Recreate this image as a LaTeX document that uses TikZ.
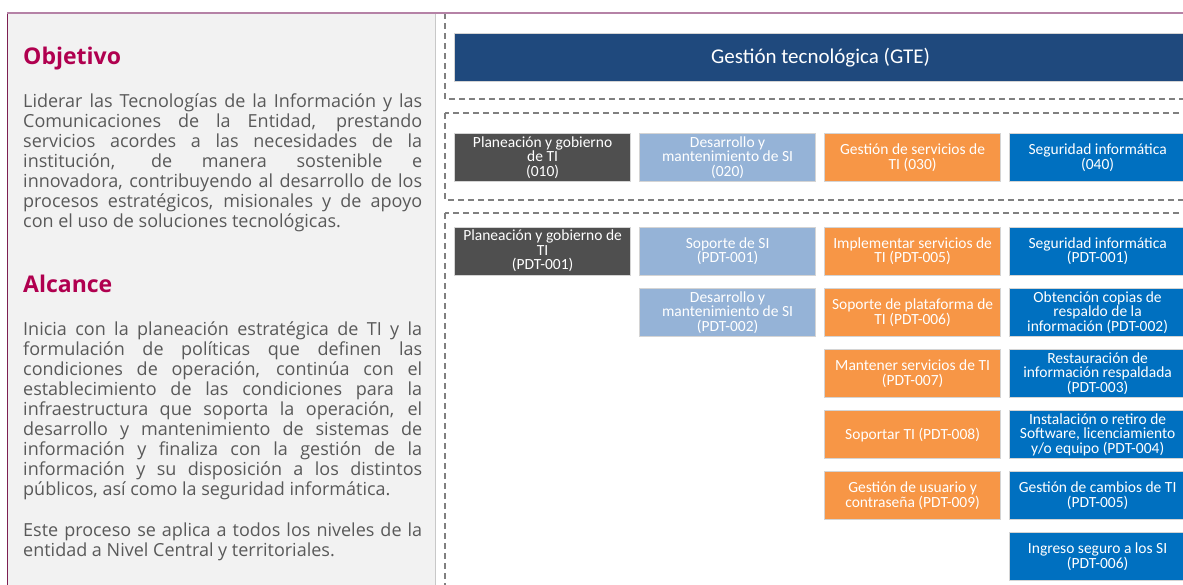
\documentclass[tikz,border=0pt]{standalone}
\usepackage{fontspec}
\setmainfont{Open Sans}
\newfontfamily\boxfont{Carlito}
\definecolor{panelbg}{HTML}{F2F2F2}
\definecolor{panelline}{HTML}{C8C8C8}
\definecolor{magdark}{HTML}{7D1F52}
\definecolor{magtop}{HTML}{B582A6}
\definecolor{headcol}{HTML}{B0004F}
\definecolor{bodygray}{HTML}{595959}
\definecolor{dashgray}{HTML}{808080}
\definecolor{gtecol}{HTML}{1F497D}
\definecolor{darkbox}{HTML}{4F4F4F}
\definecolor{lightblue}{HTML}{95B3D7}
\definecolor{orangebox}{HTML}{F79646}
\definecolor{bluebox}{HTML}{0070C0}
\definecolor{boxedge}{HTML}{D4D4D4}
\begin{document}
\begin{tikzpicture}[x=1pt,y=-1pt,
  pbox/.style={anchor=north west, minimum width=176pt, minimum height=48pt,
    inner sep=1pt, align=center, text=white, draw=boxedge, line width=1.2pt,
    font=\boxfont\fontsize{15.5}{14.5}\selectfont},
  graybox/.style={pbox, fill=darkbox},
  lbbox/.style={pbox, fill=lightblue},
  orbox/.style={pbox, fill=orangebox},
  blbox/.style={pbox, fill=bluebox},
  dashbox/.style={draw=dashgray, line width=1.5pt, dash pattern=on 6pt off 4pt},
  headtxt/.style={anchor=base west, inner sep=0pt, text=headcol,
    font=\bfseries\fontsize{23}{26}\selectfont},
  bodytxt/.style={anchor=base west, inner sep=0pt, align=left, text=bodygray,
    font=\fontsize{18}{20}\selectfont}
]
\useasboundingbox (0,0) rectangle (1183,584);
\clip (0,0) rectangle (1183,584);

% left panel
\fill[panelbg] (8,13) rectangle (435,600);
\draw[panelline, line width=1pt] (435,13) -- (435,600);
\draw[magdark, line width=1.6pt] (7.5,13) -- (7.5,600);

% dashed groups
\draw[dashbox] (445,13) rectangle (1200,99);
\draw[dashbox] (445,113) rectangle (1200,200);
\draw[dashbox] (445,213) rectangle (1200,700);
\draw[magtop, line width=1.2pt] (7,13) -- (1190,13);

% texts (base anchor = baseline of the last line)
\node[headtxt] (objh) at (23,64) {Objetivo};
\node[bodytxt] (objt) at (23,227) {%
\makebox[399pt][s]{Liderar las Tecnologías de la Información y las}\\
\makebox[399pt][s]{Comunicaciones de la Entidad, prestando}\\
\makebox[399pt][s]{servicios acordes a las necesidades de la}\\
\makebox[399pt][s]{institución, de manera sostenible e}\\
\makebox[399pt][s]{innovadora, contribuyendo al desarrollo de los}\\
\makebox[399pt][s]{procesos estratégicos, misionales y de apoyo}\\
\makebox[399pt][l]{con el uso de soluciones tecnológicas.}};

\node[headtxt] (alch) at (23,292) {Alcance};
\node[bodytxt] (alct) at (23,495) {%
\makebox[399pt][s]{Inicia con la planeación estratégica de TI y la}\\
\makebox[399pt][s]{formulación de políticas que definen las}\\
\makebox[399pt][s]{condiciones de operación, continúa con el}\\
\makebox[399pt][s]{establecimiento de las condiciones para la}\\
\makebox[399pt][s]{infraestructura que soporta la operación, el}\\
\makebox[399pt][s]{desarrollo y mantenimiento de sistemas de}\\
\makebox[399pt][s]{información y finaliza con la gestión de la}\\
\makebox[399pt][s]{información y su disposición a los distintos}\\
\makebox[399pt][l]{públicos, así como la seguridad informática.}};
\node[bodytxt] (alct2) at (23,556) {%
\makebox[399pt][s]{Este proceso se aplica a todos los niveles de la}\\
\makebox[399pt][l]{entidad a Nivel Central y territoriales.}};

% GTE
\node[pbox, fill=gtecol, minimum width=732pt, minimum height=48pt,
  font=\boxfont\fontsize{21}{24}\selectfont] (gte) at (454,33) {Gestión tecnológica (GTE)};

% row 1
\node[graybox] (r1c1) at (454,133) {Planeación y gobierno\\de TI\\(010)};
\node[lbbox]   (r1c2) at (639,133) {Desarrollo y\\mantenimiento de SI\\(020)};
\node[orbox]   (r1c3) at (824,133) {Gestión de servicios de\\TI (030)};
\node[blbox]   (r1c4) at (1009,133) {Seguridad informática\\(040)};

% row 2
\node[graybox] (r2c1) at (454,226.5) {Planeación y gobierno de\\TI\\(PDT-001)};
\node[lbbox]   (r2c2) at (639,226.5) {Soporte de SI\\(PDT-001)};
\node[orbox]   (r2c3) at (824,226.5) {Implementar servicios de\\TI (PDT-005)};
\node[blbox]   (r2c4) at (1009,226.5) {Seguridad informática\\(PDT-001)};

% row 3
\node[lbbox]   (r3c2) at (639,288) {Desarrollo y\\mantenimiento de SI\\(PDT-002)};
\node[orbox]   (r3c3) at (824,288) {Soporte de plataforma de\\TI (PDT-006)};
\node[blbox]   (r3c4) at (1009,288) {Obtención copias de\\respaldo de la\\información (PDT-002)};

% row 4
\node[orbox]   (r4c3) at (824,349) {Mantener servicios de TI\\(PDT-007)};
\node[blbox]   (r4c4) at (1009,349) {Restauración de\\información respaldada\\(PDT-003)};

% row 5
\node[orbox]   (r5c3) at (824,410) {Soportar TI (PDT-008)};
\node[blbox]   (r5c4) at (1009,410) {Instalación o retiro de\\Software, licenciamiento\\y/o equipo (PDT-004)};

% row 6
\node[orbox]   (r6c3) at (824,471) {Gestión de usuario y\\contraseña (PDT-009)};
\node[blbox]   (r6c4) at (1009,471) {Gestión de cambios de TI\\(PDT-005)};

% row 7
\node[blbox]   (r7c4) at (1009,532) {Ingreso seguro a los SI\\(PDT-006)};
\end{tikzpicture}
\end{document}
